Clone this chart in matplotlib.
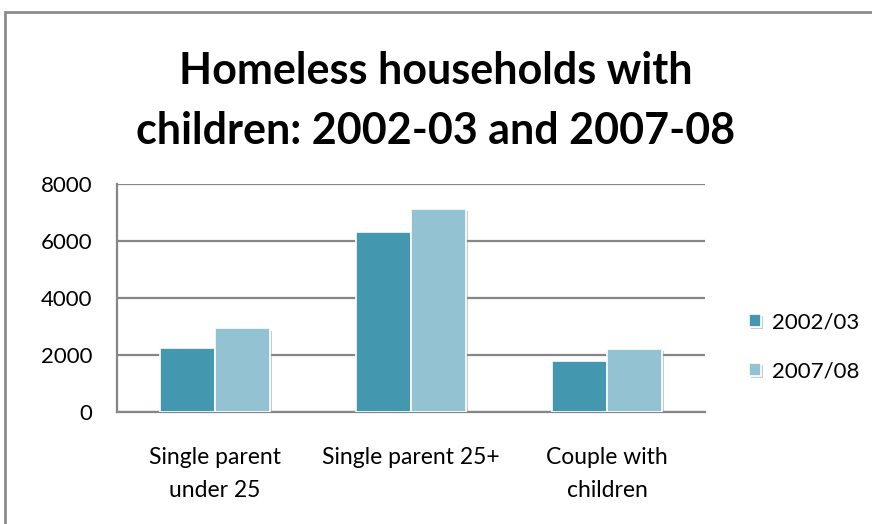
import numpy as np
import matplotlib
matplotlib.use('Agg')
import matplotlib.pyplot as plt
from matplotlib.patches import Rectangle
import matplotlib.patheffects as pe

categories = ['Single parent\nunder 25', 'Single parent 25+', 'Couple with\nchildren']
series_names = ['2002/03', '2007/08']
values_0203 = [2240, 6310, 1780]
values_0708 = [2930, 7140, 2210]
colors = ['#4397AF', '#93C2D3']

plt.rcParams['font.family'] = ['Lato', 'DejaVu Sans']

fig = plt.figure(figsize=(8.72, 5.24), dpi=100)
# outer chart border (as in the spreadsheet export)
fig.patches.append(Rectangle((5 / 872, -0.05), 1.0, 1 - 12 / 524 + 0.05,
                             transform=fig.transFigure, fill=False,
                             edgecolor='#8c8c8c', linewidth=2))

ax = fig.add_axes([117 / 872, 112 / 524, 588 / 872, 228 / 524])
x = np.arange(len(categories))
w = 0.28
shadow = [pe.SimplePatchShadow(offset=(1.5, -1.5), shadow_rgbFace='#999999', alpha=0.5), pe.Normal()]
for i, vals in enumerate([values_0203, values_0708]):
    bars = ax.bar(x + (i - 0.5) * w, vals, w, color=colors[i], edgecolor='white',
                  linewidth=1.2, label=series_names[i], zorder=3)
    for b in bars:
        b.set_path_effects(shadow)

ax.set_xlim(-0.5, 2.5)
ax.set_ylim(0, 8000)
ax.set_yticks([0, 2000, 4000, 6000, 8000])
ax.yaxis.grid(True, color='#868686', linewidth=1.6, zorder=0)
ax.set_axisbelow(True)
for s in ['top', 'right']:
    ax.spines[s].set_visible(False)
ax.spines['left'].set_color('#868686')
ax.spines['left'].set_linewidth(1.6)
ax.spines['bottom'].set_color('#868686')
ax.spines['bottom'].set_linewidth(1.6)
ax.set_xticks(x)
ax.set_xticklabels(categories, fontsize=16.5, linespacing=1.75)
ax.tick_params(axis='x', length=0, pad=25)
ax.tick_params(axis='y', length=0, pad=18, labelsize=16)

fig.text(0.5, 1 - 101 / 524, 'Homeless households with\nchildren: 2002-03 and 2007-08',
         ha='center', va='center', fontsize=31, fontweight='bold', linespacing=1.6)

leg = ax.legend(loc='center left', bbox_to_anchor=(1.04, 0.285), frameon=False,
                fontsize=16, handlelength=0.55, handleheight=0.55, handletextpad=0.5,
                labelspacing=1.3)

fig.savefig('out.png', dpi=100)
